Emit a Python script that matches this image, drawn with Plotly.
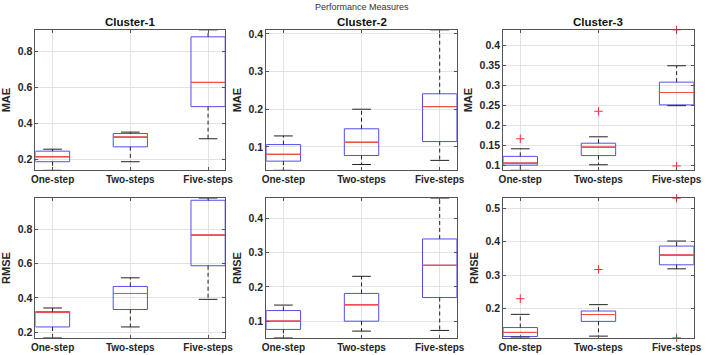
import plotly.graph_objects as go

categories = ["One-step", "Two-steps", "Five-steps"]
clusters = ["Cluster-1", "Cluster-2", "Cluster-3"]
metrics = ["MAE", "RMSE"]

# MAE box statistics per cluster (One-step, Two-steps, Five-steps)
mae_q1 = [[0.187, 0.270, 0.494], [0.062, 0.077, 0.114], [0.100, 0.124, 0.251]]
mae_med = [[0.215, 0.324, 0.629], [0.080, 0.112, 0.207], [0.105, 0.145, 0.282]]
mae_q3 = [[0.246, 0.344, 0.883], [0.106, 0.148, 0.241], [0.122, 0.155, 0.308]]
mae_lo = [[0.139, 0.187, 0.315], [0.0375, 0.053, 0.064], [0.087, 0.101, 0.249]]
mae_hi = [[0.257, 0.352, 0.922], [0.129, 0.200, 0.411], [0.141, 0.171, 0.349]]
mae_out = [[[], [], []], [[], [], []], [[0.166], [0.235], [0.439, 0.098]]]

# RMSE box statistics per cluster
rmse_q1 = [[0.232, 0.333, 0.587], [0.076, 0.100, 0.169], [0.117, 0.162, 0.331]]
rmse_med = [[0.318, 0.426, 0.765], [0.100, 0.148, 0.263], [0.129, 0.1825, 0.360]]
rmse_q3 = [[0.321, 0.467, 0.967], [0.131, 0.181, 0.340], [0.1436, 0.193, 0.387]]
rmse_lo = [[0.169, 0.232, 0.392], [0.0515, 0.071, 0.073], [0.115, 0.118, 0.319]]
rmse_hi = [[0.342, 0.517, 0.979], [0.147, 0.231, 0.459], [0.183, 0.212, 0.402]]
rmse_out = [[[], [], []], [[], [], []], [[0.2297], [0.317], [0.530, 0.113]]]

# y tick steps per panel
mae_dtick = [0.2, 0.1, 0.05]
rmse_dtick = [0.2, 0.1, 0.1]

stats = {
    "MAE": (mae_q1, mae_med, mae_q3, mae_lo, mae_hi, mae_out, mae_dtick),
    "RMSE": (rmse_q1, rmse_med, rmse_q3, rmse_lo, rmse_hi, rmse_out, rmse_dtick),
}

W = 708
H = 355
col_px = [(32, 225), (266.7, 460.7), (507.7, 701.7)]
row_px = [(28, 169.3), (197.3, 337.7)]

BOX_W = 0.44
CAP = 0.12
FONT = "Liberation Sans, Arial, sans-serif"
TXT = "#262626"

fig = go.Figure()
layout = {}
annotations = []

for r, metric in enumerate(metrics):
    q1s, meds, q3s, los, his, outs, dticks = stats[metric]
    for c in range(3):
        k = r * 3 + c + 1
        xa = "x" if k == 1 else f"x{k}"
        ya = "y" if k == 1 else f"y{k}"
        q1, med, q3, lo, hi, out = q1s[c], meds[c], q3s[c], los[c], his[c], outs[c]
        xpos = [i + 1 for i in range(len(categories))]

        # dashed whiskers
        wx, wy = [], []
        cx, cy = [], []
        for i, x in enumerate(xpos):
            wx += [x, x, None, x, x, None]
            wy += [q3[i], hi[i], None, q1[i], lo[i], None]
            cx += [x - CAP, x + CAP, None, x - CAP, x + CAP, None]
            cy += [hi[i], hi[i], None, lo[i], lo[i], None]
        fig.add_trace(go.Scatter(x=wx, y=wy, mode="lines", xaxis=xa, yaxis=ya,
                                 line=dict(color="#222222", width=1, dash="4px,3px"),
                                 showlegend=False, hoverinfo="skip"))
        fig.add_trace(go.Scatter(x=cx, y=cy, mode="lines", xaxis=xa, yaxis=ya,
                                 line=dict(color="#222222", width=1),
                                 showlegend=False, hoverinfo="skip", cliponaxis=False))
        # box
        fig.add_trace(go.Box(x=xpos, q1=q1, median=med, q3=q3, lowerfence=q1, upperfence=q3,
                             width=BOX_W, whiskerwidth=0, xaxis=xa, yaxis=ya,
                             line=dict(color="rgb(80,80,235)", width=1),
                             fillcolor="rgba(0,0,0,0)", boxpoints=False, showlegend=False))
        # median
        fig.add_trace(go.Box(x=xpos, q1=med, median=med, q3=med, lowerfence=med, upperfence=med,
                             width=BOX_W, whiskerwidth=0, xaxis=xa, yaxis=ya,
                             line=dict(color="rgb(240,80,80)", width=1),
                             fillcolor="rgba(0,0,0,0)", boxpoints=False, showlegend=False))
        # outliers
        ox, oy = [], []
        for i, x in enumerate(xpos):
            for v in out[i]:
                ox.append(x)
                oy.append(v)
        if ox:
            fig.add_trace(go.Scatter(x=ox, y=oy, mode="markers", xaxis=xa, yaxis=ya,
                                     marker=dict(symbol="cross-thin", size=6,
                                                 line=dict(color="rgb(240,50,50)", width=1)),
                                     showlegend=False, cliponaxis=False))

        all_vals = lo + hi + [v for o in out for v in o]
        ymin, ymax = min(all_vals), max(all_vals)

        x0, x1 = col_px[c]
        y0, y1 = row_px[r]
        xkey = "xaxis" if k == 1 else f"xaxis{k}"
        ykey = "yaxis" if k == 1 else f"yaxis{k}"
        layout[xkey] = dict(
            domain=[x0 / W, x1 / W], anchor=ya, range=[1 - 0.22, 3 + 0.22],
            tickvals=xpos, ticktext=categories, showgrid=True, gridcolor="#e3e3e3",
            gridwidth=1, showline=True, linecolor="#555555", linewidth=1, mirror="ticks",
            ticks="inside", ticklen=3, tickcolor="#555555", zeroline=False,
            tickfont=dict(family=FONT, size=10, color=TXT, weight="bold"),
        )
        layout[ykey] = dict(
            domain=[1 - y1 / H, 1 - y0 / H], anchor=xa, range=[ymin, ymax],
            dtick=dticks[c], tick0=0, showgrid=True, gridcolor="#e3e3e3", gridwidth=1,
            showline=True, linecolor="#555555", linewidth=1, mirror="ticks",
            ticks="inside", ticklen=3, tickcolor="#555555", zeroline=False,
            tickfont=dict(family=FONT, size=10.5, color=TXT, weight="bold"),
            title=dict(text=metric, standoff=4,
                       font=dict(family=FONT, size=11, color=TXT, weight="bold")),
        )
        if r == 0:
            annotations.append(dict(
                text=f"<b>{clusters[c]}</b>", xref="paper", yref="paper",
                x=(x0 + x1) / 2 / W, y=1 - 20.5 / H, xanchor="center", yanchor="middle",
                showarrow=False, font=dict(family=FONT, size=11.5, color="#111111")))

annotations.append(dict(
    text="Performance Measures", xref="paper", yref="paper",
    x=(col_px[1][0] + col_px[1][1]) / 2 / W, y=1 - 5.5 / H, xanchor="center", yanchor="middle",
    showarrow=False, font=dict(family=FONT, size=9, color="#333333")))

fig.update_layout(
    width=W, height=H, margin=dict(l=0, r=0, t=0, b=0),
    paper_bgcolor="white", plot_bgcolor="white", showlegend=False,
    boxmode="overlay", annotations=annotations, hovermode=False, **layout,
)

fig.write_html("out.html", config={"displayModeBar": False, "staticPlot": True},
               post_script="document.body.style.margin='0px';document.body.style.overflow='hidden';")
